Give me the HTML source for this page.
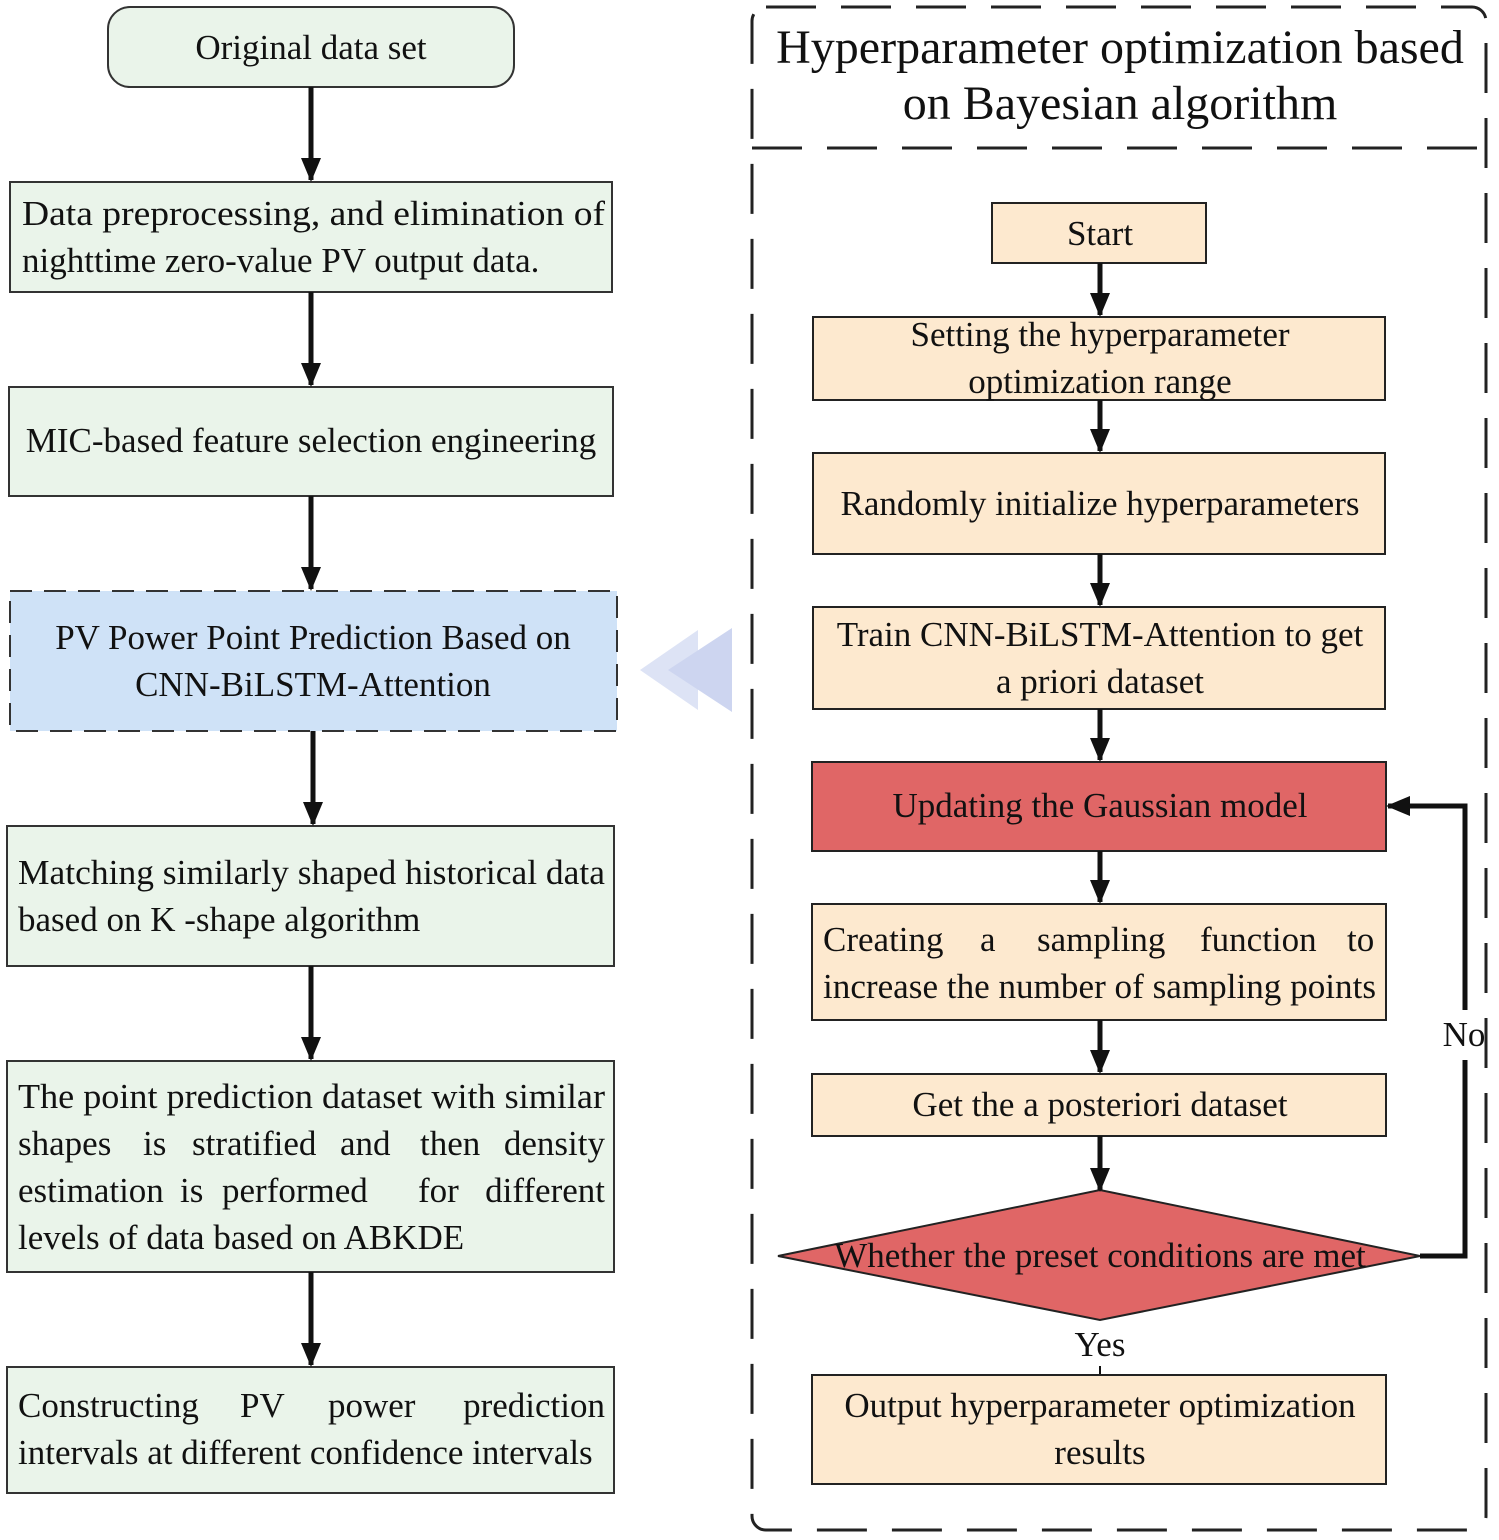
<!DOCTYPE html>
<html><head><meta charset="utf-8"><style>body{margin:0;background:#fff}svg{display:block}text{font-family:"Liberation Serif",serif;fill:#111}</style></head>
<body>
<svg width="1499" height="1540" viewBox="0 0 1499 1540" xmlns="http://www.w3.org/2000/svg">
<defs>
<marker id="b" markerWidth="24" markerHeight="20" refX="22" refY="10" orient="auto" markerUnits="userSpaceOnUse"><path d="M0,0 L24,10 L0,20z" fill="#111"/></marker></defs>
<g stroke="#333" stroke-width="2" fill="#eaf4ea">
<rect x="108" y="7" width="406" height="80" rx="22"/>
<rect x="10" y="182" width="602" height="110"/>
<rect x="9" y="387" width="604" height="109"/>
<rect x="7" y="826" width="607" height="140"/>
<rect x="7" y="1061" width="607" height="211"/>
<rect x="7" y="1367" width="607" height="126"/>
</g>
<rect x="10" y="591" width="607" height="140" fill="#cfe2f7" stroke="#333" stroke-width="2" stroke-dasharray="22,12"/>
<g stroke="#111" stroke-width="5" marker-end="url(#b)">
<line x1="311" y1="87" x2="311" y2="180"/>
<line x1="311" y1="292" x2="311" y2="385"/>
<line x1="311" y1="496" x2="311" y2="589"/>
<line x1="313" y1="731" x2="313" y2="824"/>
<line x1="311" y1="966" x2="311" y2="1059"/>
<line x1="311" y1="1272" x2="311" y2="1365"/>
</g>
<g font-size="35">
<text x="311" y="59" text-anchor="middle">Original data set</text>
<text x="22" y="225" textLength="583" lengthAdjust="spacingAndGlyphs">Data preprocessing, and elimination of</text>
<text x="22" y="272">nighttime zero-value PV output data.</text>
<text x="311" y="452" text-anchor="middle">MIC-based feature selection engineering</text>
<text x="313" y="649" text-anchor="middle">PV Power Point Prediction Based on</text>
<text x="313" y="696" text-anchor="middle">CNN-BiLSTM-Attention</text>
<text x="18" y="884" textLength="587" lengthAdjust="spacingAndGlyphs">Matching similarly shaped historical data</text>
<text x="18" y="931">based on K -shape algorithm</text>
<text x="18" y="1108" textLength="587" lengthAdjust="spacingAndGlyphs">The point prediction dataset with similar</text>
<text y="1155"><tspan x="18">shapes</tspan><tspan x="143">is</tspan><tspan x="192">stratified</tspan><tspan x="340">and</tspan><tspan x="420">then</tspan></text>
<text x="605" y="1155" text-anchor="end">density</text>
<text y="1202"><tspan x="18">estimation</tspan><tspan x="180">is</tspan><tspan x="222">performed</tspan><tspan x="418">for</tspan></text>
<text x="605" y="1202" text-anchor="end">different</text>
<text x="18" y="1249">levels of data based on ABKDE</text>
<text y="1417"><tspan x="18">Constructing</tspan><tspan x="240">PV</tspan><tspan x="328">power</tspan></text>
<text x="605" y="1417" text-anchor="end">prediction</text>
<text x="18" y="1464">intervals at different confidence intervals</text>
</g>
<path d="M640,670 L698,630 L698,710z" fill="#dde3f5"/>
<path d="M668,670 L732,628 L732,712z" fill="#cdd5f0"/>
<rect x="752" y="7" width="734" height="1523" rx="14" fill="none" stroke="#222" stroke-width="3" stroke-dasharray="50,25"/>
<line x1="752" y1="148" x2="1486" y2="148" stroke="#222" stroke-width="3" stroke-dasharray="50,25"/>
<g font-size="48" text-anchor="middle"><text x="1120" y="63">Hyperparameter optimization based</text><text x="1120" y="119">on Bayesian algorithm</text></g>
<g stroke="#222" stroke-width="2" fill="#fde9cf">
<rect x="992" y="203" width="214" height="60"/>
<rect x="813" y="317" width="572" height="83"/>
<rect x="813" y="453" width="572" height="101"/>
<rect x="813" y="607" width="572" height="102"/>
<rect x="812" y="762" width="574" height="89" fill="#e06666"/>
<rect x="812" y="904" width="574" height="116"/>
<rect x="812" y="1074" width="574" height="62"/>
<path d="M778,1256 L1100,1190 L1420,1256 L1100,1320z" fill="#e06666"/>
<rect x="812" y="1375" width="574" height="109"/>
</g>
<g stroke="#111" stroke-width="5" marker-end="url(#b)">
<line x1="1100" y1="263" x2="1100" y2="315"/>
<line x1="1100" y1="400" x2="1100" y2="451"/>
<line x1="1100" y1="554" x2="1100" y2="605"/>
<line x1="1100" y1="709" x2="1100" y2="760"/>
<line x1="1100" y1="851" x2="1100" y2="902"/>
<line x1="1100" y1="1020" x2="1100" y2="1072"/>
<line x1="1100" y1="1136" x2="1100" y2="1190"/>
</g>
<line x1="1100" y1="1366" x2="1100" y2="1374" stroke="#111" stroke-width="2"/>
<path d="M1420,1256 H1465 V1060 M1465,1010 V806 H1388" fill="none" stroke="#111" stroke-width="5" marker-end="url(#b)"/>
<g font-size="35" text-anchor="middle">
<text x="1100" y="245">Start</text>
<text x="1100" y="346">Setting the hyperparameter</text>
<text x="1100" y="393">optimization range</text>
<text x="1100" y="515">Randomly initialize hyperparameters</text>
<text x="1100" y="646">Train CNN-BiLSTM-Attention to get</text>
<text x="1100" y="693">a priori dataset</text>
<text x="1100" y="817">Updating the Gaussian model</text>
<text x="1100" y="1116">Get the a posteriori dataset</text>
<text x="1100" y="1267">Whether the preset conditions are met</text>
<text x="1100" y="1356">Yes</text>
<text x="1464" y="1046">No</text>
<text x="1100" y="1417">Output hyperparameter optimization</text>
<text x="1100" y="1464">results</text>
</g>
<g font-size="35">
<text y="951"><tspan x="823">Creating</tspan><tspan x="980">a</tspan><tspan x="1037">sampling</tspan><tspan x="1200">function</tspan><tspan x="1347">to</tspan></text>
<text x="823" y="998" textLength="553" lengthAdjust="spacingAndGlyphs">increase the number of sampling points</text>
</g>
</svg>
</body></html>
